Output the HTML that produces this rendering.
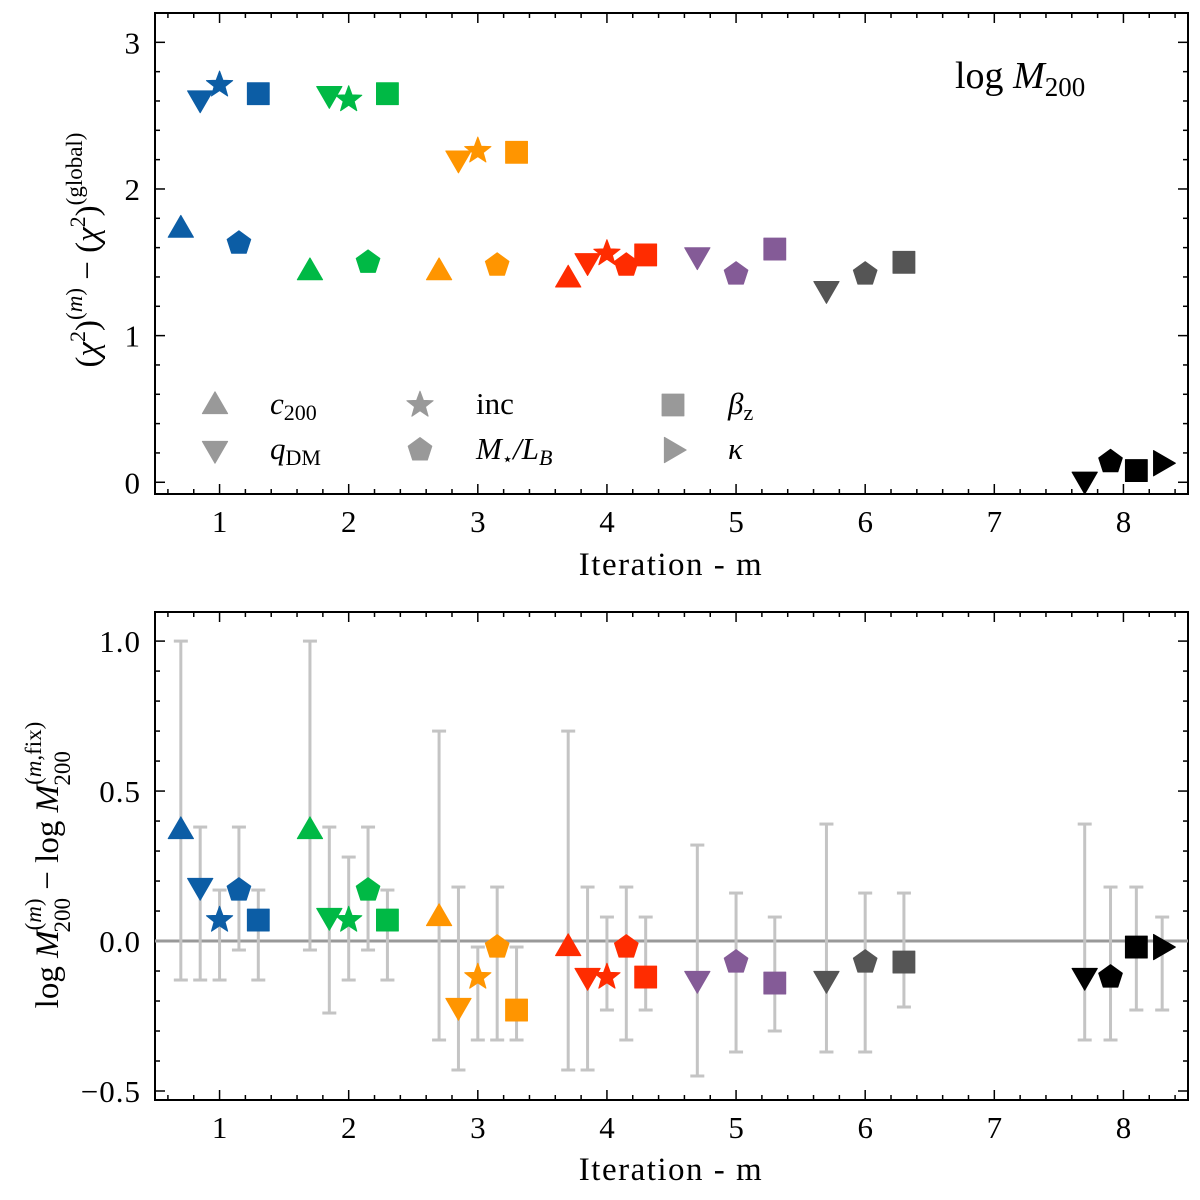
<!DOCTYPE html>
<html><head><meta charset="utf-8"><style>
html,body{margin:0;padding:0;background:#fff;}
svg{display:block;font-family:"Liberation Serif","DejaVu Serif",serif;}
</style></head><body>
<svg id="chart" width="1200" height="1200" viewBox="0 0 1200 1200" xmlns="http://www.w3.org/2000/svg">
<g id="top"></g>
<g id="bot"></g>
<text x="955" y="88" font-size="38">log <tspan font-style="italic">M</tspan><tspan font-size="27" dy="8">200</tspan></text>
<text x="671" y="575" font-size="33" letter-spacing="1.5" text-anchor="middle">Iteration - m</text>
<text x="671" y="1180" font-size="33" letter-spacing="1.5" text-anchor="middle">Iteration - m</text>
<text transform="translate(98,250) rotate(-90)" font-size="33" text-anchor="middle">(<tspan font-style="italic">χ</tspan><tspan font-size="22" dy="-13">2</tspan><tspan dy="13">)</tspan><tspan font-size="23" dy="-16">(<tspan font-style="italic">m</tspan>)</tspan><tspan dy="16"> − (</tspan><tspan font-style="italic">χ</tspan><tspan font-size="22" dy="-13">2</tspan><tspan dy="13">)</tspan><tspan font-size="23" dy="-16">(global)</tspan></text>
<text transform="translate(58,865) rotate(-90)" font-size="33" text-anchor="middle">log <tspan font-style="italic">M</tspan><tspan font-size="23" dy="-17">(<tspan font-style="italic">m</tspan>)</tspan><tspan font-size="23" dx="-34" dy="29">200</tspan><tspan dy="-12"> − log </tspan><tspan font-style="italic">M</tspan><tspan font-size="23" dy="-17">(<tspan font-style="italic">m</tspan>,fix)</tspan><tspan font-size="23" dx="-64" dy="29">200</tspan></text>
</svg>
<script>
// ---- data ----
const xTicks = [1,2,3,4,5,6,7,8];
const topYTicks = [0,1,2,3];
const botYTicks = [-0.5,0.0,0.5,1.0];
const botYTickLabels = ["−0.5","0.0","0.5","1.0"];
const pointX =      [0.7,0.85,1.0,1.15,1.3, 1.7,1.85,2.0,2.15,2.3, 2.7,2.85,3.0,3.15,3.3, 3.7,3.85,4.0,4.15,4.3, 4.7,5.0,5.3, 5.7,6.0,6.3, 7.7,7.9,8.1,8.3];
const pointMarker = ["up","down","star","pent","sq", "up","down","star","pent","sq", "up","down","star","pent","sq", "up","down","star","pent","sq", "down","pent","sq", "down","pent","sq", "down","pent","sq","right"];
const pointGroup =  [0,0,0,0,0, 1,1,1,1,1, 2,2,2,2,2, 3,3,3,3,3, 4,4,4, 5,5,5, 6,6,6,6];
const chi2Values =  [1.73,2.61,2.71,1.63,2.65, 1.44,2.64,2.61,1.50,2.65, 1.44,2.20,2.26,1.48,2.25, 1.39,1.50,1.56,1.48,1.55, 1.54,1.42,1.59, 1.31,1.42,1.50, 0.01,0.14,0.08,0.13];
const dMassValues = [0.37,0.18,0.07,0.17,0.07, 0.37,0.08,0.07,0.17,0.07, 0.08,-0.22,-0.12,-0.02,-0.23, -0.02,-0.12,-0.12,-0.02,-0.12, -0.13,-0.07,-0.14, -0.13,-0.07,-0.07, -0.12,-0.12,-0.02,-0.02];
const dMassLow =    [-0.13,-0.13,-0.13,-0.03,-0.13, -0.03,-0.24,-0.13,-0.03,-0.13, -0.33,-0.43,-0.33,-0.33,-0.33, -0.43,-0.43,-0.23,-0.33,-0.23, -0.45,-0.37,-0.30, -0.37,-0.37,-0.22, -0.33,-0.33,-0.23,-0.23];
const dMassHigh =   [1.0,0.38,0.17,0.38,0.17, 1.0,0.38,0.28,0.38,0.17, 0.70,0.18,-0.02,0.18,-0.02, 0.70,0.18,0.08,0.18,0.08, 0.32,0.16,0.08, 0.39,0.16,0.16, 0.39,0.18,0.18,0.08];
const groupColors = ["#0C5DA5","#00B945","#FF9500","#FF2C00","#845B97","#555555","#000000"];

const NS="http://www.w3.org/2000/svg";
const X0=155,X1=1188;
function sx(v){return X0+(v-0.5)/8*(X1-X0);}
const T={y0:13,y1:494,min:-0.08,max:3.2};
const B={y0:612,y1:1100,min:-0.53,max:1.097};
function syT(v){return T.y1-(v-T.min)/(T.max-T.min)*(T.y1-T.y0);}
function syB(v){return B.y1-(v-B.min)/(B.max-B.min)*(B.y1-B.y0);}
function mk(tag,attrs,parent){const e=document.createElementNS(NS,tag);for(const k in attrs)e.setAttribute(k,attrs[k]);parent.appendChild(e);return e;}
function markerPath(type,cx,cy,s){
  if(type==="up")return `M${cx},${cy-s*1.15} L${cx+s*1.1},${cy+s*0.75} L${cx-s*1.1},${cy+s*0.75}Z`;
  if(type==="down")return `M${cx},${cy+s*1.15} L${cx+s*1.1},${cy-s*0.75} L${cx-s*1.1},${cy-s*0.75}Z`;
  if(type==="right")return `M${cx+s*1.15},${cy} L${cx-s*0.75},${cy+s*1.1} L${cx-s*0.75},${cy-s*1.1}Z`;
  if(type==="sq")return `M${cx-s*0.95},${cy-s*0.95} h${s*1.9} v${s*1.9} h${-s*1.9}Z`;
  if(type==="pent"){let d="";for(let i=0;i<5;i++){const a=-Math.PI/2+i*2*Math.PI/5;d+=(i?"L":"M")+(cx+s*1.08*Math.cos(a))+","+(cy+s*1.08*Math.sin(a));}return d+"Z";}
  if(type==="star"){let d="";for(let i=0;i<10;i++){const r=i%2?s*0.5:s*1.2;const a=-Math.PI/2+i*Math.PI/5;d+=(i?"L":"M")+(cx+r*Math.cos(a))+","+(cy+r*Math.sin(a));}return d+"Z";}
}
function frame(g,y0,y1,yt,ylab,sy,minorStep,ymin,ymax,name){
  for(let v=0.6;v<8.45;v+=0.2){const x=sx(v);const major=Math.abs(v-Math.round(v))<1e-6;const L=major?10:5;
    const t1=mk("line",{x1:x,x2:x,y1:y1,y2:y1-L,stroke:"#000","stroke-width":1.5},g);
    
    
    mk("line",{x1:x,x2:x,y1:y0,y2:y0+L,stroke:"#000","stroke-width":1.5},g);}
  xTicks.forEach(v=>{const t=mk("text",{x:sx(v),y:y1+38,"font-size":31,"text-anchor":"middle"},g);t.textContent=v;
    
    });
  for(let v=Math.ceil(ymin/minorStep)*minorStep;v<=ymax;v+=minorStep){const y=sy(v);
    const major=yt.some(t=>Math.abs(t-v)<1e-6);const L=major?10:5;
    mk("line",{x1:X0,x2:X0+L,y1:y,y2:y,stroke:"#000","stroke-width":1.5},g);
    mk("line",{x1:X1,x2:X1-L,y1:y,y2:y,stroke:"#000","stroke-width":1.5},g);}
  yt.forEach((v,i)=>{const t=mk("text",{x:X0-14,y:sy(v)+11,"font-size":31,"letter-spacing":1,"text-anchor":"end"},g);t.textContent=ylab[i];
    
    });
  const r=mk("rect",{x:X0,y:y0,width:X1-X0,height:y1-y0,fill:"none",stroke:"#000","stroke-width":2},g);
  
  
}
const gT=document.getElementById("top"),gB=document.getElementById("bot");
frame(gT,T.y0,T.y1,topYTicks,topYTicks.map(String),syT,0.2,T.min,T.max,"top");
frame(gB,B.y0,B.y1,botYTicks,botYTickLabels,syB,0.1,B.min,B.max,"bottom");
const zl=mk("line",{x1:X0,x2:X1,y1:syB(0),y2:syB(0),stroke:"#999","stroke-width":3},gB);


pointX.forEach((xv,i)=>{const x=sx(xv),a=syB(dMassLow[i]),b=syB(dMassHigh[i]);
  const eg=mk("g",{stroke:"#c4c4c4","stroke-width":3},gB);
  
  
  mk("line",{x1:x,x2:x,y1:a,y2:b},eg);mk("line",{x1:x-7,x2:x+7,y1:a,y2:a},eg);mk("line",{x1:x-7,x2:x+7,y1:b,y2:b},eg);});
pointX.forEach((xv,i)=>{const c=groupColors[pointGroup[i]];
  const p1=mk("path",{d:markerPath(pointMarker[i],sx(xv),syT(chi2Values[i]),11.5),fill:c,stroke:c,"stroke-width":1,"stroke-linejoin":"round"},gT);
  
  
  const p2=mk("path",{d:markerPath(pointMarker[i],sx(xv),syB(dMassValues[i]),11.5),fill:c,stroke:c,"stroke-width":1,"stroke-linejoin":"round"},gB);
  
  });
const lg=mk("g",{},gT);


const legPos=[[215,405,"up"],[215,450,"down"],[420,405,"star"],[420,450,"pent"],[673,405,"sq"],[673,450,"right"]];
legPos.forEach(([x,y,m])=>{const p=mk("path",{d:markerPath(m,x,y,11.5),fill:"#999",stroke:"#999","stroke-linejoin":"round"},lg);
  
  });
const lgt=[
 [270,414,'<tspan font-style="italic">c</tspan><tspan font-size="22" dy="6">200</tspan>'],
 [270,459,'<tspan font-style="italic">q</tspan><tspan font-size="22" dy="6">DM</tspan>'],
 [476,414,'inc'],
 [476,459,'<tspan font-style="italic">M</tspan><tspan font-size="18" dy="6">⋆</tspan><tspan dy="-6" font-style="italic">/L</tspan><tspan font-size="22" dy="6" font-style="italic">B</tspan>'],
 [728,414,'<tspan font-style="italic">β</tspan><tspan font-size="22" dy="6">z</tspan>'],
 [728,459,'<tspan font-style="italic">κ</tspan>']];
lgt.forEach(([x,y,h])=>{const t=mk("text",{x:x,y:y,"font-size":31},lg);t.innerHTML=h;
  
  });
</script>
</body></html>
